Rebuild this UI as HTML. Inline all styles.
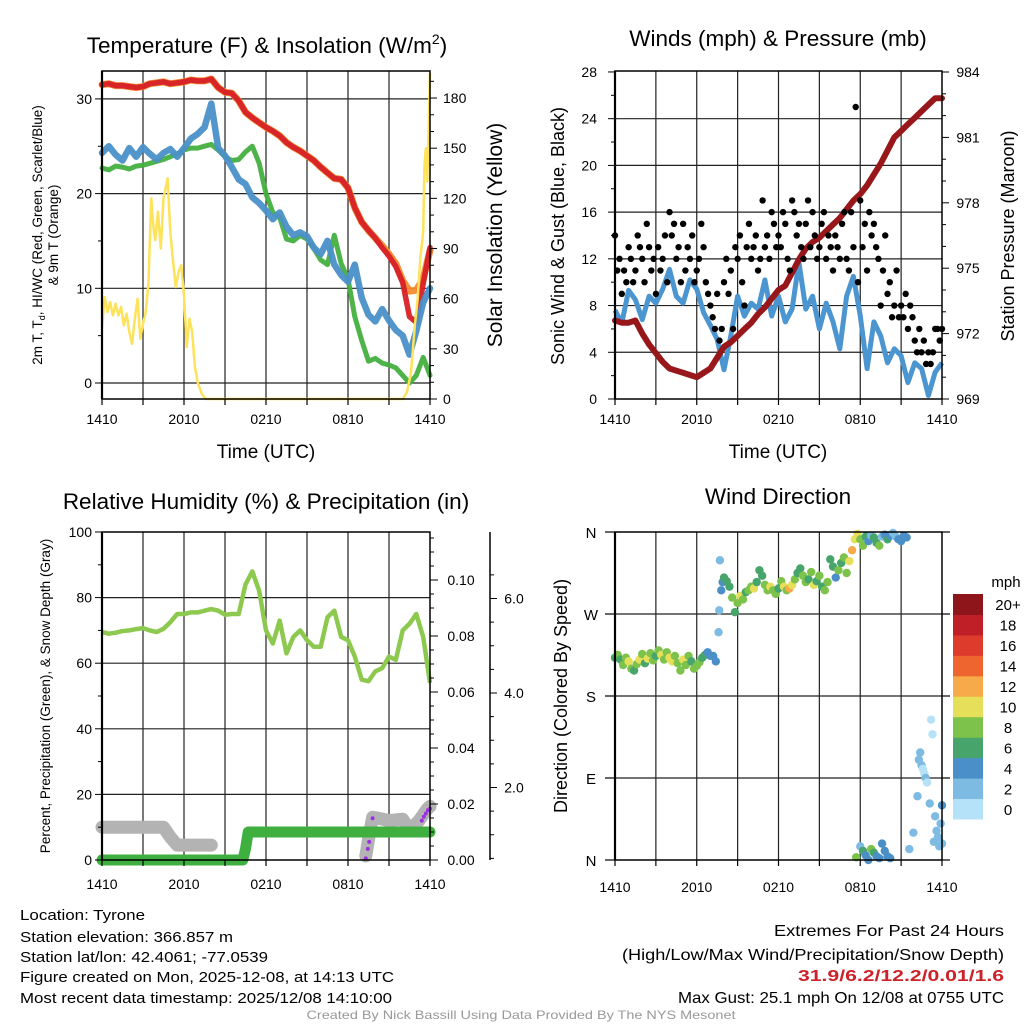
<!DOCTYPE html>
<html><head><meta charset="utf-8"><style>
html,body{margin:0;padding:0;background:#fff;}
svg{display:block;font-family:"Liberation Sans",Arial,sans-serif;}
</style></head><body>
<svg id="fig" width="1024" height="1024" viewBox="0 0 1024 1024">
<rect width="1024" height="1024" fill="#fff"/>
<g id="p1"></g>
<g id="p2"></g>
<g id="p3"></g>
<g id="p4"></g>
<g font-size="22.5" text-anchor="middle" fill="#000">
<text x="267" y="53">Temperature (F) &amp; Insolation (W/m<tspan font-size="14" dy="-9">2</tspan><tspan dy="9">)</tspan></text>
<text x="778" y="46">Winds (mph) &amp; Pressure (mb)</text>
<text x="266" y="509">Relative Humidity (%) &amp; Precipitation (in)</text>
<text x="778" y="504">Wind Direction</text>
</g>
<g fill="#000" text-anchor="middle">
<text x="266" y="458" font-size="19">Time (UTC)</text>
<text x="778" y="458" font-size="19">Time (UTC)</text>
<text transform="translate(502,235) rotate(-90)" font-size="21">Solar Insolation (Yellow)</text>
<text transform="translate(42,235) rotate(-90)" font-size="13.5">2m T, T<tspan font-size="9" dy="3">d</tspan><tspan dy="-3">, HI/WC (Red, Green, Scarlet/Blue)</tspan></text>
<text transform="translate(58,235) rotate(-90)" font-size="13.5">&amp; 9m T (Orange)</text>
<text transform="translate(564,236) rotate(-90)" font-size="18">Sonic Wind &amp; Gust (Blue, Black)</text>
<text transform="translate(1014,236) rotate(-90)" font-size="18">Station Pressure (Maroon)</text>
<text transform="translate(50,696) rotate(-90)" font-size="13.5">Percent, Precipitation (Green), &amp; Snow Depth (Gray)</text>
<text transform="translate(567,696) rotate(-90)" font-size="18">Direction (Colored By Speed)</text>
</g>
<g font-size="15" fill="#000">
<text x="20" y="920" textLength="125" lengthAdjust="spacingAndGlyphs">Location: Tyrone</text>
<text x="20" y="942" textLength="213" lengthAdjust="spacingAndGlyphs">Station elevation: 366.857 m</text>
<text x="20" y="962" textLength="248" lengthAdjust="spacingAndGlyphs">Station lat/lon: 42.4061; -77.0539</text>
<text x="20" y="982" textLength="374" lengthAdjust="spacingAndGlyphs">Figure created on Mon, 2025-12-08, at 14:13 UTC</text>
<text x="20" y="1003" textLength="372" lengthAdjust="spacingAndGlyphs">Most recent data timestamp: 2025/12/08 14:10:00</text>
</g>
<g font-size="16" fill="#000" text-anchor="end">
<text x="1004" y="936" textLength="230" lengthAdjust="spacingAndGlyphs">Extremes For Past 24 Hours</text>
<text x="1004" y="960" textLength="382" lengthAdjust="spacingAndGlyphs">(High/Low/Max Wind/Precipitation/Snow Depth)</text>
<text x="1004" y="981" fill="#cc2229" font-weight="bold" textLength="206" lengthAdjust="spacingAndGlyphs">31.9/6.2/12.2/0.01/1.6</text>
<text x="1004" y="1003" textLength="326" lengthAdjust="spacingAndGlyphs">Max Gust: 25.1 mph On 12/08 at 0755 UTC</text>
</g>
<text x="521" y="1019" font-size="12" fill="#999" text-anchor="middle" textLength="429" lengthAdjust="spacingAndGlyphs">Created By Nick Bassill Using Data Provided By The NYS Mesonet</text>
</svg>
<script>
// ---- data ----
const hours = [0,0.5,1,1.5,2,2.5,3,3.5,4,4.5,5,5.5,6,6.5,7,7.5,8,8.5,9,9.5,10,10.5,11,11.5,12,12.5,13,13.5,14,14.5,15,15.5,16,16.5,17,17.5,18,18.5,19,19.5,20,20.5,21,21.5,22,22.5,23,23.5,24];
const timeLabels = ["1410","2010","0210","0810","1410"];
const tempT = [31.5,31.6,31.4,31.4,31.3,31.2,31.3,31.6,31.7,31.8,31.6,31.7,31.8,32.0,31.9,31.9,32.1,31.2,30.7,30.6,29.8,28.6,28.0,27.5,27.0,26.6,26.1,25.4,24.9,24.5,24.0,23.5,22.8,22.2,21.6,21.5,20.6,18.5,17.0,16.1,15.3,14.3,13.4,12.3,10.6,7.0,6.4,10.5,14.3];
const temp9m = [31.5,31.6,31.4,31.4,31.3,31.2,31.3,31.6,31.7,31.8,31.6,31.7,31.8,32.0,31.9,31.9,32.1,31.2,30.7,30.6,29.8,28.6,28.0,27.5,27.0,26.6,26.1,25.4,24.9,24.5,24.0,23.5,22.8,22.2,21.6,21.5,20.6,18.5,17.0,16.1,15.3,14.5,13.6,12.6,10.8,9.7,9.8,11.0,14.0];
const dewT = [22.7,22.5,22.9,22.8,22.6,22.9,23.0,23.2,23.4,23.6,23.9,24.2,24.6,24.8,24.8,25.0,25.2,24.6,23.9,23.5,23.6,24.4,25.0,23.2,20.0,18.0,17.5,15.2,15.0,15.6,15.2,14.2,13.0,12.5,15.6,12.6,11.0,7.0,4.5,2.3,2.6,2.1,1.9,1.6,0.8,0.0,0.8,2.7,0.8];
const chillT = [24.3,25.0,24.1,23.5,24.8,23.9,24.9,24.2,23.6,24.3,24.7,23.9,24.8,25.8,26.3,27.0,29.5,24.8,24.0,22.8,21.5,21.0,19.6,19.0,18.2,17.3,18.0,16.5,15.6,15.9,15.5,14.3,13.6,15.0,12.5,11.4,10.7,12.5,9.0,7.2,6.5,7.8,6.6,5.6,5.0,3.0,5.5,8.5,10.0];
const solarT = [0,0.2,0.4,0.6,0.8,1.0,1.2,1.4,1.6,1.8,2.0,2.2,2.4,2.6,2.8,3.0,3.2,3.4,3.6,3.8,3.9,4.1,4.3,4.5,4.7,4.8,5.0,5.2,5.4,5.6,5.8,6.0,6.2,6.4,6.6,6.8,7.0,7.3,7.6,8,22.0,22.3,22.6,22.9,23.1,23.3,23.5,23.6,23.7,23.8,24.0];
const solarV = [43,61,52,58,50,57,50,55,44,51,40,33,48,60,36,45,52,70,120,100,95,112,90,120,128,132,100,82,67,76,80,62,31,48,40,19,10,3,0,0,0,4,15,45,60,85,100,140,150,130,195];
const pressure = [972.6,972.5,972.5,972.6,972.0,971.5,971.1,970.7,970.4,970.3,970.2,970.1,970.0,970.2,970.4,970.9,971.4,971.6,971.9,972.2,972.5,972.9,973.2,973.6,974.0,974.2,974.8,975.4,975.9,976.2,976.4,976.7,977.0,977.3,977.7,978.1,978.4,978.8,979.3,979.8,980.4,981.0,981.3,981.6,981.9,982.2,982.5,982.8,982.8];
const windSpd = [7.6,6.5,9.3,8.5,6.8,8.8,8.2,9.4,11.1,8.8,8.2,10.2,9.4,7.4,6.3,5.1,2.5,5.4,8.8,7.1,8.2,7.7,10.2,7.1,8.8,6.6,7.7,11.7,7.7,8.8,6.0,8.2,6.6,4.3,8.8,10.5,7.1,2.6,6.6,5.4,3.1,4.3,3.7,1.4,3.1,2.6,0.3,2.3,3.1];
const gusts = [14,11,12,9,11,10, 13,12,10,11,14,13, 12,10,15,13,11,12, 9,13,11,12,14,10, 16,14,15,12,13,10, 15,11,13,12,14,10, 11,12,15,13,10,9, 8,7,6,9,5,6, 10,12,9,11,6,13, 12,14,10,8,13,15, 12,13,14,11,12,17, 13,14,12,16,15,13, 14,13,16,15,12,11, 17,16,14,15,13,12, 15,17,13,16,14,12, 13,15,16,12,14,13, 11,14,13,12,15,16, 12,11,16,13,25,10, 17,13,15,11,16,14, 15,13,12,8,11,14, 9,10,7,8,11,7, 8,7,9,6,8,7, 5,4,6,4,5,3, 4,3,4,6,6,5, 6];
const humidity = [69.5,69,69.3,69.8,70,70.4,70.7,70,69.5,70.5,72.5,75,75,75.5,75.5,76,76.5,76,74.8,75,75,84,88,82,70,66,73,63,68,70,67,65,65,74,76,68,67,62,55,54.5,57.5,58.5,62,61,70,72,75,68,54];
const precipT = [0,10.3,10.5,10.7,24];
const precipV = [0,0,0.004,0.01,0.01];
const snow1T = [0,3.5,4.5,5.0,5.5,8.0];
const snow1V = [1.16,1.16,1.16,0.95,0.78,0.78];
const snow2T = [19.3,19.5,19.8,20.2,21,22,22.5,23.2,23.8,24];
const snow2V = [0.55,0.9,1.37,1.35,1.30,1.33,1.1,1.3,1.55,1.6];
const purpleT = [19.3,19.45,19.55,19.65,19.8,23.4,23.55,23.7,23.85,24];
const purpleV = [0.5,0.7,0.85,1.0,1.35,1.3,1.38,1.45,1.52,1.55];
const dirT = [0,0.2,0.4,0.6,0.8,1.0,1.2,1.4,1.6,1.8,2.0,2.2,2.4,2.6,2.8,3.0,3.2,3.4,3.6,3.8,4.0,4.2,4.4,4.6,4.8,5.0,5.2,5.4,5.6,5.8,6.0,6.2,6.4,6.6,6.8,7.0,7.2,7.4,7.6,7.65,7.7,7.8,7.9,
 8.0,8.2,8.4,8.6,8.8,9.0,9.2,9.4,9.6,9.8,10.0,10.2,10.4,10.6,10.8,11.0,11.2,11.4,11.6,11.8,12.0,12.2,12.4,12.6,12.8,13.0,13.2,13.4,13.6,13.8,14.0,14.2,14.4,14.6,14.8,15.0,15.2,15.4,15.6,15.8,16.0,16.2,16.4,16.6,16.8,17.0,17.2,17.4,17.6,
 17.8,18.0,18.2,18.4,18.6,18.8,19.0,19.2,19.4,19.6,19.8,20.0,20.2,20.4,20.6,20.8,21.0,21.2,21.4,
 17.7,18.0,18.2,18.4,18.6,18.8,19.0,19.2,19.4,19.6,19.8,20.0,20.2,
 21.6,21.9,22.2,22.3,22.4,22.5,22.6,22.7,22.8,22.9,23.1,23.2,23.3,23.4,23.5,23.6,23.7,23.8,23.9,24.0,24.0];
const dirV = [222,225,220,214,222,218,210,208,215,220,226,216,221,227,219,224,230,225,220,228,222,218,224,216,208,220,214,224,218,210,213,217,222,225,228,224,224,218,250,274,329,296,305,
 310,306,300,288,272,282,290,286,294,296,300,298,305,318,312,302,296,300,296,292,298,306,300,296,298,302,308,315,320,312,305,308,316,302,306,312,300,296,305,330,322,310,318,326,332,315,328,340,352,
 358,352,345,355,350,356,354,348,345,355,357,352,356,359,355,352,350,356,354,
 3,15,10,5,0,12,8,4,2,18,10,4,2,
 12,30,70,110,118,104,100,95,90,85,62,154,138,20,48,32,25,15,40,60,18];
const dirSpd = [7,8,6,9,8,10,8,7,9,10,8,7,10,9,8,7,9,10,8,9,10,10,9,8,9,10,8,9,7,8,9,8,6,6,5,4,4,4,2,2,2,4,5,
 6,6,7,8,6,8,10,8,7,9,8,10,7,6,7,8,9,10,8,9,7,8,10,8,12,10,9,7,6,8,9,7,8,10,7,8,6,9,8,7,6,4,8,6,9,8,10,12,10,
 10,8,8,6,4,2,6,6,8,2,4,6,4,2,2,4,4,4,4,
 8,2,6,4,4,8,6,4,4,4,4,4,4,
 2,2,2,2,2,2,1,1,2,1,2,1,1,2,2,2,2,2,2,4,2];
const speedBins = ["0","2","4","6","8","10","12","14","16","18","20+"];
const binColors = ["#b5e2f8","#7dbbe3","#4a8fc7","#47a56b","#7dc24b","#e6df5a","#f6aa4a","#ef6530","#dd3b2c","#bf1f27","#8e1519"];

// ---- helpers ----
const NS="http://www.w3.org/2000/svg";
function mk(parent,tag,attrs){const e=document.createElementNS(NS,tag);for(const k in attrs)e.setAttribute(k,attrs[k]);parent.appendChild(e);return e;}
function pathD(ts,vs,fx,fy){return ts.map((t,i)=>(i?'L':'M')+fx(t).toFixed(1)+','+fy(vs[i]).toFixed(1)).join('');}
function txt(parent,x,y,s,anchor,size){const e=mk(parent,'text',{x:x,y:y,'text-anchor':anchor||'middle','font-size':size||14,fill:'#000'});e.textContent=s;return e;}
const GRID='#222';

function frame(g,x0,x1,y0,y1,xs,hLines,yFn){
  for(let h=3;h<24;h+=3){const l=mk(g,'line',{x1:xs(h),x2:xs(h),y1:y0,y2:y1,stroke:GRID,'stroke-width':1.2});
    
    }
  hLines.forEach(v=>{const l=mk(g,'line',{x1:x0,x2:x1,y1:yFn(v),y2:yFn(v),stroke:GRID,'stroke-width':1.2});
    
    });
}
function box(g,x0,x1,y0,y1){const r=mk(g,'rect',{x:x0,y:y0,width:x1-x0,height:y1-y0,fill:'none',stroke:'#000','stroke-width':1.5});
  
  
  mk(g,'line',{x1:x0,x2:x0,y1:y0,y2:y1,stroke:'#000','stroke-width':2.2});}
function xAxis(g,xs,y1,labY){
  for(let h=0;h<=24;h+=3){mk(g,'line',{x1:xs(h),x2:xs(h),y1:y1,y2:y1+6,stroke:'#000','stroke-width':1.2});}
  timeLabels.forEach((s,i)=>{const e=txt(g,xs(i*6),labY,s,'middle',14);
    
    });
}

// ---- panel 1 ----
(function(){
  const g=document.getElementById('p1');
  const x0=102,x1=430,y0=71,y1=399;
  const xs=t=>x0+t*(x1-x0)/24, yT=v=>383-v*9.47, yS=v=>399-v*1.672;
  frame(g,x0,x1,y0,y1,xs,[0,10,20,30],yT);
  const lines=[[temp9m,'#f58a2e',7,'temp-9m-line'],[tempT,'#d62027',5.5,'temp-2m-line'],[dewT,'#45b040',5,'dewpoint-line'],[chillT,'#4a90c8',6.5,'wind-chill-line']];
  lines.forEach(([arr,c,w,n])=>{const p=mk(g,'path',{d:pathD(hours,arr,xs,yT),fill:'none',stroke:c,'stroke-width':w,'stroke-linejoin':'round','stroke-linecap':'round',opacity:0.95});
    
    });
  const sp=mk(g,'path',{d:pathD(solarT,solarV,xs,yS),fill:'none',stroke:'#fde25a','stroke-width':2.5,'stroke-linejoin':'round'});
  
  
  box(g,x0,x1,y0,y1);
  for(let v=0;v<=33;v+=5){const maj=v%10===0;mk(g,'line',{x1:x0-(maj?7:4),x2:x0,y1:yT(v),y2:yT(v),stroke:'#000','stroke-width':1});
    if(maj){const e=txt(g,92,yT(v)+5,String(v),'end',14);}}
  for(let v=0;v<=190;v+=10){const maj=v%30===0;mk(g,'line',{x1:x1,x2:x1+(maj?7:4),y1:yS(v),y2:yS(v),stroke:'#000','stroke-width':1});
    if(maj){const e=txt(g,443,yS(v)+5,String(v),'start',14);}}
  xAxis(g,xs,y1,424);
})();

// ---- panel 2 ----
(function(){
  const g=document.getElementById('p2');
  const x0=615,x1=942,y0=71,y1=399;
  const xs=t=>x0+t*(x1-x0)/24, yW=v=>399-v*11.68, yP=p=>399-(p-969)*21.8;
  frame(g,x0,x1,y0,y1,xs,[4,8,12,16,20,24],yW);
  const wp=mk(g,'path',{d:pathD(hours,windSpd,xs,yW),fill:'none',stroke:'#4b95d0','stroke-width':5,'stroke-linejoin':'round'});
  
  
  const pp=mk(g,'path',{d:pathD(hours,pressure,xs,yP),fill:'none',stroke:'#98171b','stroke-width':6,'stroke-linejoin':'round','stroke-linecap':'round'});
  
  
  gusts.forEach((v,i)=>{const c=mk(g,'circle',{cx:xs(i/6),cy:yW(v),r:3.2,fill:'#000'});
    
    });
  box(g,x0,x1,y0,y1);
  for(let v=0;v<=28;v+=2){const maj=v%4===0;mk(g,'line',{x1:x0-(maj?7:4),x2:x0,y1:yW(v),y2:yW(v),stroke:'#000','stroke-width':1});
    if(maj){const e=txt(g,597,yW(v)+5,String(v),'end',14);}}
  for(let p=969;p<=984;p+=1){const maj=(p-969)%3===0;mk(g,'line',{x1:x1,x2:x1+(maj?7:4),y1:yP(p),y2:yP(p),stroke:'#000','stroke-width':1});
    if(maj){const e=txt(g,968,yP(p)+5,String(p),'middle',14);}}
  xAxis(g,xs,y1,424);
})();

// ---- panel 3 ----
(function(){
  const g=document.getElementById('p3');
  const x0=102,x1=430,y0=532,y1=860;
  const xs=t=>x0+t*(x1-x0)/24, yR=v=>860-v*3.28, yPr=v=>860-v*2800, ySd=v=>882-v*47.25;
  frame(g,x0,x1,y0,y1,xs,[20,40,60,80],yR);
  [[snow1T,snow1V],[snow2T,snow2V]].forEach(([ts,vs])=>{const p=mk(g,'path',{d:pathD(ts,vs,xs,ySd),fill:'none',stroke:'#b3b3b3','stroke-width':13,'stroke-linejoin':'round','stroke-linecap':'round'});
    
    });
  purpleT.forEach((t,i)=>{const c=mk(g,'circle',{cx:xs(t),cy:ySd(purpleV[i]),r:2,fill:'#9b30e0'});
    
    });
  const pr=mk(g,'path',{d:pathD(precipT,precipV,xs,yPr),fill:'none',stroke:'#3fb040','stroke-width':11,'stroke-linejoin':'round','stroke-linecap':'round'});
  
  
  const rh=mk(g,'path',{d:pathD(hours,humidity,xs,yR),fill:'none',stroke:'#8cc94e','stroke-width':4.5,'stroke-linejoin':'round'});
  
  
  box(g,x0,x1,y0,y1);
  for(let v=0;v<=100;v+=10){const maj=v%20===0;mk(g,'line',{x1:x0-(maj?7:4),x2:x0,y1:yR(v),y2:yR(v),stroke:'#000','stroke-width':1});
    if(maj){const e=txt(g,92,yR(v)+5,String(v),'end',14);}}
  for(let k=0;k<=23;k++){const v=k*0.005;const maj=k%4===0;mk(g,'line',{x1:x1,x2:x1+(maj?8:4),y1:yPr(v),y2:yPr(v),stroke:'#000','stroke-width':1});
    if(maj){const e=txt(g,461,yPr(v)+5,v.toFixed(2),'middle',14);}}
  const ax=mk(g,'line',{x1:490,x2:490,y1:y0,y2:y1,stroke:'#000','stroke-width':1.5});
  
  
  for(let k=1;k<=13;k++){const v=k*0.5;const y=ySd(v);if(y<y0||y>y1)continue;const maj=k%4===0;mk(g,'line',{x1:490,x2:490+(maj?7:4),y1:y,y2:y,stroke:'#000','stroke-width':1});
    if(maj){const e=txt(g,514,y+5,v.toFixed(1),'middle',14);}}
  xAxis(g,xs,y1,889);
})();

// ---- panel 4 ----
(function(){
  const g=document.getElementById('p4');
  const x0=615,x1=942,y0=532,y1=860;
  const xs=t=>x0+t*(x1-x0)/24, yD=d=>860-d*328/360;
  frame(g,x0,x1,y0,y1,xs,[90,180,270],yD);
  dirT.forEach((t,i)=>{const b=Math.min(10,Math.floor(dirSpd[i]/2));const c=mk(g,'circle',{cx:xs(t),cy:yD(dirV[i]),r:4.2,fill:binColors[b]});
    
    });
  box(g,x0,x1,y0,y1);
  ['N','E','S','W','N'].forEach((s,i)=>{const y=yD(i*90);mk(g,'line',{x1:605,x2:x0,y1:y,y2:y,stroke:'#000','stroke-width':1.2});mk(g,'line',{x1:x1,x2:950,y1:y,y2:y,stroke:'#000','stroke-width':1.2});
    const e=txt(g,591,y+6,s,'middle',15);});
  xAxis(g,xs,y1,892);
  const cb=mk(g,'g',{});
  
  
  const cbTop=594,cbBot=819,h=(cbBot-cbTop)/11;
  binColors.forEach((c,i)=>{const y=cbBot-(i+1)*h;mk(cb,'rect',{x:953,y:y,width:30,height:h+0.5,fill:c});
    const e=txt(cb,1008,y+h/2+6,speedBins[i],'middle',15);});
  const m=txt(cb,1006,587,'mph','middle',15);
  
  
})();
</script>
</body></html>
